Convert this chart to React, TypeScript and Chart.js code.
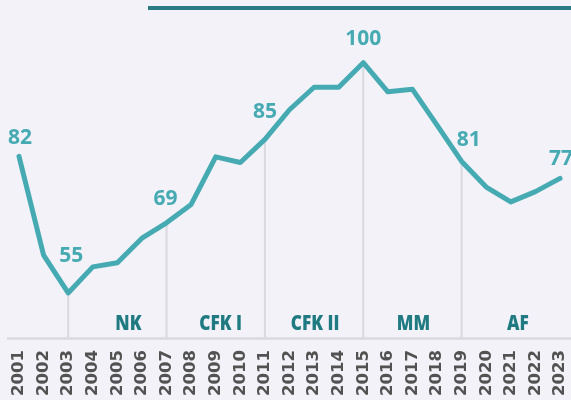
import React, { useEffect, useRef } from "react";
import { Chart, registerables } from "chart.js";

Chart.register(...registerables);

const years = [
  "2001", "2002", "2003", "2004", "2005", "2006", "2007", "2008", "2009", "2010", "2011", "2012",
  "2013", "2014", "2015", "2016", "2017", "2018", "2019", "2020", "2021", "2022", "2023",
];
const values = [
  81.7, 62.4, 55, 60.1, 60.9, 65.7, 68.7, 72.3, 81.6, 80.5, 85, 90.8,
  95.2, 95.2, 100, 94.3, 94.8, 87.8, 80.7, 75.7, 72.8, 74.8, 77.4,
];
const labeledYears = ["2001", "2003", "2007", "2011", "2015", "2019", "2023"];
const markerYears = ["2003", "2007", "2011", "2015", "2019"];
const periodNames = ["NK", "CFK I", "CFK II", "MM", "AF"];
const periodStarts = ["2003", "2007", "2011", "2015", "2019"];
const periodEnds = ["2007", "2011", "2015", "2019", "2023"];

// styling
const BG = "#f2f2f8";
const LINE = "#46aab3";
const DARK_TEAL = "#1f7a81";
const GRID = "#d9d9df";
const TICK = "#525252";
const VALUE_FONT = "bold 21px 'Open Sans', 'Noto Sans', sans-serif";
const PERIOD_FONT = "800 21px 'Open Sans', 'Noto Sans', sans-serif";
const PERIOD_SQUEEZE = 0.82;
const labelNudge: Record<string, [number, number]> = {
  "2001": [1, -18],
  "2003": [3, -37],
  "2007": [-1, -24],
  "2011": [0, -27],
  "2015": [0, -24],
  "2019": [7, -21],
  "2023": [1, -19],
};
const periodNudge = [11, 5, 1, 1, 7];

const overlayPlugin = {
  id: "overlay",
  beforeDatasetsDraw(chart: any) {
    const { ctx, chartArea } = chart;
    const x = chart.scales.x;
    const y = chart.scales.y;
    ctx.save();
    // baseline
    ctx.strokeStyle = GRID;
    ctx.lineWidth = 2.5;
    ctx.beginPath();
    ctx.moveTo(chartArea.left - 12, chartArea.bottom + 0.5);
    ctx.lineTo(chart.width, chartArea.bottom + 0.5);
    ctx.stroke();
    // period marker lines
    ctx.lineWidth = 2;
    markerYears.forEach((yr) => {
      const i = years.indexOf(yr);
      const px = x.getPixelForValue(i);
      const py = y.getPixelForValue(values[i]);
      ctx.beginPath();
      ctx.moveTo(px, py);
      ctx.lineTo(px, chartArea.bottom);
      ctx.stroke();
    });
    // period labels (condensed via horizontal squeeze)
    ctx.fillStyle = DARK_TEAL;
    ctx.font = PERIOD_FONT;
    ctx.textAlign = "center";
    ctx.textBaseline = "alphabetic";
    periodNames.forEach((name, k) => {
      const a = x.getPixelForValue(years.indexOf(periodStarts[k]));
      const b = x.getPixelForValue(years.indexOf(periodEnds[k]));
      const cx = (a + b) / 2 + periodNudge[k];
      ctx.save();
      ctx.translate(cx, chartArea.bottom - 8);
      ctx.scale(PERIOD_SQUEEZE, 1);
      ctx.fillText(name, 0, 0);
      ctx.restore();
    });
    ctx.restore();
  },
  afterDatasetsDraw(chart: any) {
    const { ctx } = chart;
    const x = chart.scales.x;
    const y = chart.scales.y;
    ctx.save();
    ctx.fillStyle = LINE;
    ctx.font = VALUE_FONT;
    ctx.textAlign = "center";
    ctx.textBaseline = "middle";
    labeledYears.forEach((yr) => {
      const i = years.indexOf(yr);
      const [dx, dy] = labelNudge[yr];
      ctx.fillText(String(Math.round(values[i])), x.getPixelForValue(i) + dx, y.getPixelForValue(values[i]) + dy);
    });
    ctx.restore();
  },
};

export default function App() {
  const ref = useRef<HTMLCanvasElement>(null);
  useEffect(() => {
    if (!ref.current) return;
    const chart = new Chart(ref.current, {
      type: "line",
      data: {
        labels: years,
        datasets: [
          {
            data: values,
            borderColor: LINE,
            borderWidth: 5,
            borderCapStyle: "round",
            borderJoinStyle: "round",
            pointRadius: 0,
            tension: 0,
            fill: false,
            clip: false as any,
          },
        ],
      },
      options: {
        responsive: false,
        animation: false,
        layout: { padding: { left: 19, right: 11, top: 0, bottom: 0 } },
        plugins: { legend: { display: false }, tooltip: { enabled: false } },
        scales: {
          x: {
            offset: false,
            grid: { display: false, drawTicks: false },
            border: { display: false },
            ticks: {
              autoSkip: false,
              maxRotation: 90,
              minRotation: 90,
              padding: 12,
              color: TICK,
              font: { family: "'DejaVu Sans', sans-serif", size: 16.5, weight: "bold" as any },
            },
            afterFit: (scale: any) => {
              scale.height = 62;
              scale.paddingLeft = 0;
              scale.paddingRight = 0;
            },
          },
          y: {
            display: false,
            min: 46.2,
            max: 112.25,
          },
        },
      },
      plugins: [overlayPlugin],
    });
    return () => chart.destroy();
  }, []);
  return (
    <div style={{ position: "fixed", left: 0, top: 0, width: 571, height: 400, background: BG, overflow: "hidden" }}>
      <div style={{ position: "absolute", left: 148, top: 6, width: 423, height: 4, background: "#287b83" }} />
      <canvas ref={ref} width={571} height={400} style={{ position: "absolute", left: 0, top: 0 }} />
    </div>
  );
}
